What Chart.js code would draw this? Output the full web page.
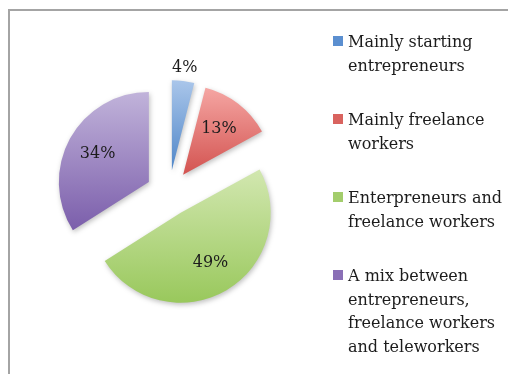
<!DOCTYPE html>
<html>
<head>
<meta charset="utf-8">
<script src="https://cdn.jsdelivr.net/npm/chart.js@4/dist/chart.umd.min.js"></script>
<style>
  html, body { margin: 0; padding: 0; background: #fff; }
  #wrap { position: relative; width: 508px; height: 374px; overflow: hidden; }
  #frame { position: absolute; left: 8px; top: 9px; width: 600px; height: 400px; border: 2px solid #a4a4a4; box-sizing: border-box; }
  canvas { position: absolute; left: 0; top: 0; }
</style>
</head>
<body>
<div id="wrap">
  <div id="frame"></div>
  <canvas id="myChart" width="508" height="374"></canvas>
</div>
<script>
const labels = [
  ['Mainly starting', 'entrepreneurs'],
  ['Mainly freelance', 'workers'],
  ['Enterpreneurs and', 'freelance workers'],
  ['A mix between', 'entrepreneurs,', 'freelance workers', 'and teleworkers']
];
const shares = [4, 13, 49, 34];
const topColors = ['#aac6ea', '#f5a6a3', '#d2e7b0', '#c1b3da'];
const bottomColors = ['#4f86c8', '#d35350', '#99c85c', '#7b5eab'];
const swatchColors = ['#5b8fd0', '#d9635f', '#a3cd6c', '#8a6fb6'];

const explode = 23;
const font = '16px "DejaVu Serif"';

// vertical gradient over each slice's own height
function sliceFill(context) {
  const i = context.dataIndex;
  const arc = context.element;
  if (!arc || arc.x === undefined) return swatchColors[i];
  const {x, y, startAngle, endAngle, outerRadius} = arc;
  let top = y, bottom = y;
  const check = a => {
    const py = y + Math.sin(a) * outerRadius;
    top = Math.min(top, py);
    bottom = Math.max(bottom, py);
  };
  check(startAngle);
  check(endAngle);
  [-Math.PI / 2, Math.PI / 2, 3 * Math.PI / 2].forEach(a => {
    if (a > startAngle && a < endAngle) check(a);
  });
  const g = context.chart.ctx.createLinearGradient(0, top, 0, bottom);
  g.addColorStop(0, topColors[i]);
  g.addColorStop(1, bottomColors[i]);
  return g;
}

// push every slice out from the centre along its middle angle
const explodePlugin = {
  id: 'explode',
  afterDatasetUpdate(chart, args) {
    chart.getDatasetMeta(args.index).data.forEach(arc => {
      const mid = (arc.startAngle + arc.endAngle) / 2;
      arc.x += Math.cos(mid) * explode;
      arc.y += Math.sin(mid) * explode;
    });
  }
};

const shadowPlugin = {
  id: 'sliceShadow',
  beforeDatasetsDraw(chart) {
    const c = chart.ctx;
    c.save();
    c.shadowColor = 'rgba(0,0,0,0.25)';
    c.shadowBlur = 5;
    c.shadowOffsetX = 1;
    c.shadowOffsetY = 2;
  },
  afterDatasetsDraw(chart) {
    chart.ctx.restore();
  }
};

const labelPlugin = {
  id: 'sliceLabels',
  afterDraw(chart) {
    const c = chart.ctx;
    c.save();
    c.font = font;
    c.fillStyle = '#1c1c1c';
    c.textAlign = 'center';
    c.textBaseline = 'middle';
    chart.getDatasetMeta(0).data.forEach((arc, i) => {
      const mid = (arc.startAngle + arc.endAngle) / 2;
      const dist = shares[i] < 10 ? arc.outerRadius + 13 : arc.outerRadius * 0.65;
      c.fillText(shares[i] + '%', arc.x + Math.cos(mid) * dist, arc.y + Math.sin(mid) * dist);
    });
    c.restore();
  }
};

const legendPlugin = {
  id: 'sideLegend',
  afterDraw(chart) {
    const c = chart.ctx;
    const boxX = 333, textX = 348, lineH = 23.5, gap = 31;
    let y = 43;
    c.save();
    c.font = font;
    c.textBaseline = 'middle';
    labels.forEach((lines, i) => {
      c.fillStyle = swatchColors[i];
      c.fillRect(boxX, y - 7, 10, 10);
      c.fillStyle = '#1c1c1c';
      lines.forEach((t, k) => c.fillText(t, textX, y + k * lineH));
      y += lines.length * lineH + gap;
    });
    c.restore();
  }
};

const ctx = document.getElementById('myChart');
const chart = new Chart(ctx, {
  type: 'pie',
  data: {
    labels: labels,
    datasets: [{
      data: shares,
      backgroundColor: sliceFill,
      borderWidth: 0,
      hoverOffset: 0
    }]
  },
  options: {
    responsive: false,
    animation: false,
    events: [],
    radius: 90,
    layout: { padding: { left: 0, right: 170, top: 12, bottom: 0 } },
    plugins: {
      legend: { display: false },
      tooltip: { enabled: false }
    }
  },
  plugins: [explodePlugin, shadowPlugin, labelPlugin, legendPlugin]
});
// second pass so the gradients see the final slice geometry
chart.update();
</script>
</body>
</html>
